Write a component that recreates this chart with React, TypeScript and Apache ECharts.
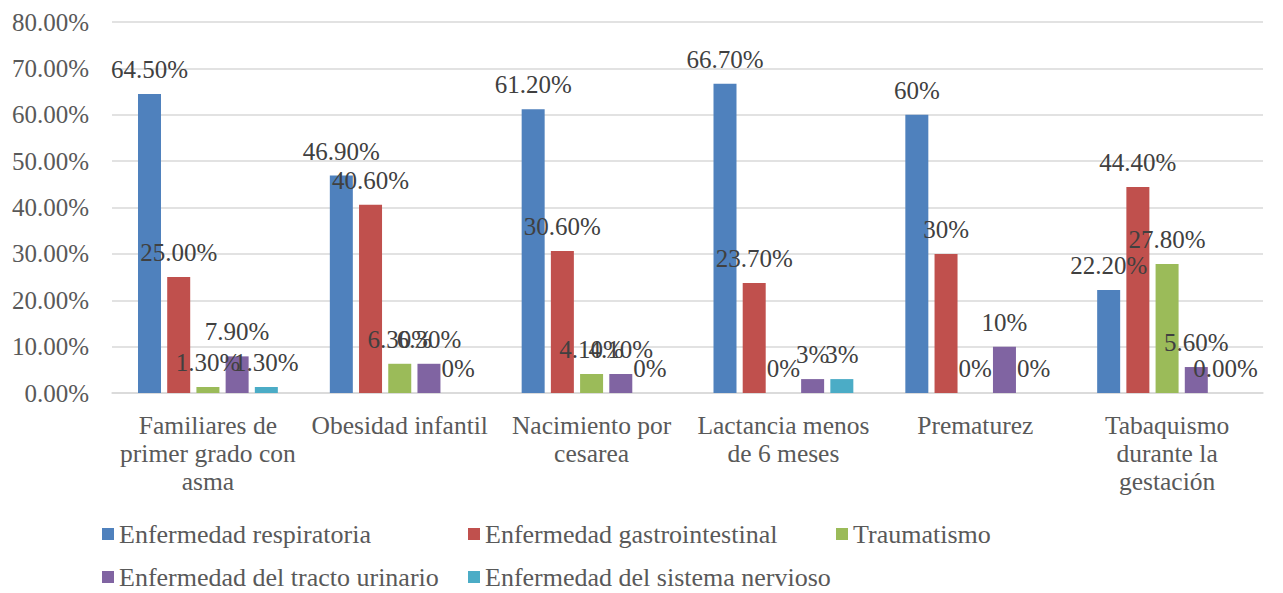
import React, { useEffect, useRef } from "react";
import * as echarts from "echarts";

const categories = [
  "Familiares de\nprimer grado con\nasma",
  "Obesidad infantil",
  "Nacimiento por\ncesarea",
  "Lactancia menos\nde 6 meses",
  "Prematurez",
  "Tabaquismo\ndurante la\ngestación",
];

const seriesNames = [
  "Enfermedad respiratoria",
  "Enfermedad gastrointestinal",
  "Traumatismo",
  "Enfermedad del tracto urinario",
  "Enfermedad del sistema nervioso",
];

const respiratoria = [64.5, 46.9, 61.2, 66.7, 60, 22.2];
const gastrointestinal = [25.0, 40.6, 30.6, 23.7, 30, 44.4];
const traumatismo = [1.3, 6.3, 4.1, 0, 0, 27.8];
const urinario = [7.9, 6.3, 4.1, 3, 10, 5.6];
const nervioso = [1.3, 0, 0, 3, 0, 0];

const respiratoriaLabels = ["64.50%", "46.90%", "61.20%", "66.70%", "60%", "22.20%"];
const gastrointestinalLabels = ["25.00%", "40.60%", "30.60%", "23.70%", "30%", "44.40%"];
const traumatismoLabels = ["1.30%", "6.30%", "4.10%", "0%", "0%", "27.80%"];
const urinarioLabels = ["7.90%", "6.30%", "4.10%", "3%", "10%", "5.60%"];
const nerviosoLabels = ["1.30%", "0%", "0%", "3%", "0%", "0.00%"];

const yTicks = [0, 10, 20, 30, 40, 50, 60, 70, 80];

const colors = ["#4F81BD", "#C0504D", "#9BBB59", "#8064A2", "#4BACC6"];

const FONT = "'Liberation Serif', 'DejaVu Serif', serif";

export default function App() {
  const ref = useRef<HTMLDivElement>(null);

  useEffect(() => {
    document.body.style.margin = "0";
    if (!ref.current) return;
    const chart = echarts.init(ref.current, undefined, { renderer: "svg" });

    const values = [respiratoria, gastrointestinal, traumatismo, urinario, nervioso];
    const labels = [
      respiratoriaLabels,
      gastrointestinalLabels,
      traumatismoLabels,
      urinarioLabels,
      nerviosoLabels,
    ];

    const legendPos = [
      { left: 102, top: 520 },
      { left: 468, top: 520 },
      { left: 836, top: 520 },
      { left: 102, top: 563 },
      { left: 468, top: 563 },
    ];

    const option: any = {
      animation: false,
      color: colors,
      textStyle: { fontFamily: FONT },
      grid: { left: 112, right: 20, top: 22, bottom: 200, containLabel: false },
      legend: seriesNames.map((n, i) => ({
        data: [n],
        left: legendPos[i].left,
        top: legendPos[i].top,
        padding: 0,
        itemWidth: 12,
        itemHeight: 12,
        itemGap: 0,
        icon: "rect",
        textStyle: { fontFamily: FONT, fontSize: 26, color: "#595959", lineHeight: 28 },
      })),
      xAxis: {
        type: "category",
        data: categories,
        axisLine: { lineStyle: { color: "#D9D9D9", width: 1.5 } },
        axisTick: { show: false },
        axisLabel: {
          interval: 0,
          fontFamily: FONT,
          fontSize: 25.5,
          lineHeight: 28,
          color: "#595959",
          margin: 18,
        },
      },
      yAxis: {
        type: "value",
        min: yTicks[0],
        max: yTicks[yTicks.length - 1],
        interval: 10,
        axisLine: { show: false },
        axisTick: { show: false },
        splitLine: { lineStyle: { color: "#D9D9D9", width: 1.5 } },
        axisLabel: {
          fontFamily: FONT,
          fontSize: 25,
          color: "#595959",
          margin: 23,
          formatter: (v: number) => v.toFixed(2) + "%",
        },
      },
      series: seriesNames.map((n, i) => ({
        name: n,
        type: "bar",
        data: values[i],
        barWidth: 23,
        barGap: "27%",
        label: {
          show: true,
          position: "top",
          distance: 12,
          fontFamily: FONT,
          fontSize: 25,
          color: "#404040",
          formatter: (p: any) => labels[i][p.dataIndex],
        },
      })),
    };

    chart.setOption(option);
    return () => chart.dispose();
  }, []);

  return <div ref={ref} style={{ width: 1283, height: 593 }} />;
}
